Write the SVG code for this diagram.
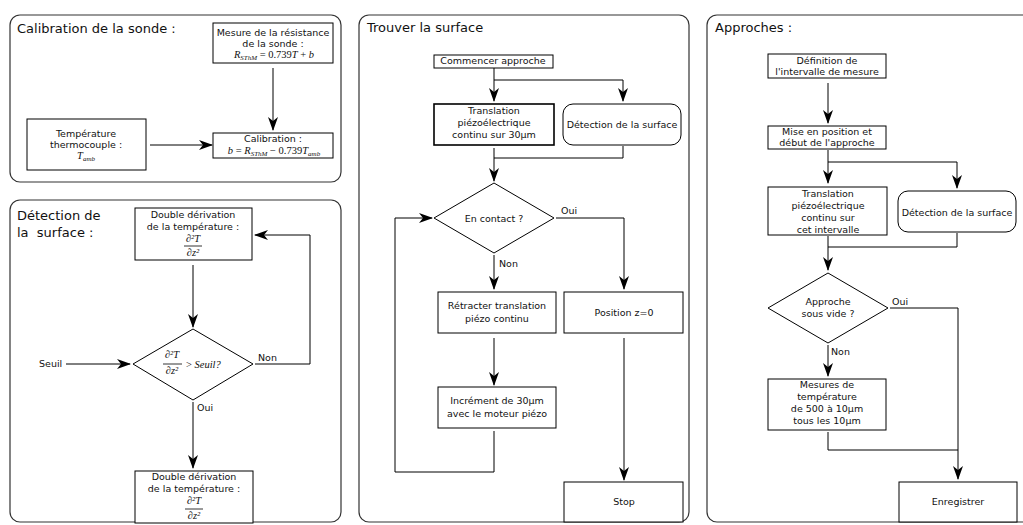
<svg xmlns="http://www.w3.org/2000/svg" width="1023" height="525" viewBox="0 0 1023 525">
<style>
.panel{fill:none;stroke:#333;stroke-width:1.2}
.box{fill:#fff;stroke:#000;stroke-width:1}
.thick{stroke-width:1.6}
.title{font-family:"DejaVu Sans",sans-serif;font-size:13px;fill:#111}
.t{font-family:"DejaVu Sans",sans-serif;font-size:9.5px;fill:#111;text-anchor:middle}
.lab{font-family:"DejaVu Sans",sans-serif;font-size:9.5px;fill:#111}
.m{font-family:"Liberation Serif","DejaVu Serif",serif;font-size:10.5px;fill:#111;text-anchor:middle}
.i{font-style:italic}
.c{fill:none;stroke:#000;stroke-width:1}
.a{marker-end:url(#arr)}
</style>
<defs>
<marker id="arr" viewBox="0 0 14 10" refX="13" refY="5" markerWidth="14" markerHeight="10" markerUnits="userSpaceOnUse" orient="auto">
<path d="M14,5 L0,0 L4,5 L0,10 Z" fill="#000"/>
</marker>
</defs>
<rect width="1023" height="525" fill="#fff"/>

<g id="panels">
<rect class="panel" x="10" y="15" width="331" height="167" rx="10"/>
<rect class="panel" x="10" y="200" width="331" height="322" rx="10"/>
<rect class="panel" x="359" y="15" width="330" height="507" rx="10"/>
<rect class="panel" x="707" y="15" width="330" height="507" rx="10"/>
<text class="title" x="17" y="33">Calibration de la sonde :</text>
<text class="title" x="17" y="220">Détection de</text>
<text class="title" x="17" y="237" style="white-space:pre">la  surface :</text>
<text class="title" x="367" y="32">Trouver la surface</text>
<text class="title" x="715" y="32">Approches :</text>
</g>

<g id="connectors">
<path class="c a" d="M273,68 V130"/>
<path class="c a" d="M150,145 H212"/>
<path class="c a" d="M193,265 V327"/>
<path class="c a" d="M66,364 H130"/>
<path class="c a" d="M255,364 H310 V235 H255"/>
<path class="c a" d="M193,402 V468"/>
<path class="c a" d="M494,68 V101"/>
<path class="c a" d="M494,80 H623 V101"/>
<path class="c a" d="M494,148 V181"/>
<path class="c" d="M623,146 V158 H494"/>
<path class="c a" d="M556,218 H624 V289"/>
<path class="c a" d="M494,255 V289"/>
<path class="c a" d="M494,338 V385"/>
<path class="c a" d="M494,431 V472 H395 V218 H432"/>
<path class="c a" d="M624,338 V480"/>
<path class="c a" d="M828,83 V123"/>
<path class="c a" d="M828,150 V183"/>
<path class="c a" d="M828,162 H957 V188"/>
<path class="c a" d="M828,236 V270"/>
<path class="c" d="M957,233 V247 H828"/>
<path class="c a" d="M890,308 H958 V479"/>
<path class="c a" d="M828,345 V376"/>
<path class="c" d="M828,432 V450 H958"/>
<text class="lab" x="258" y="361">Non</text>
<text class="lab" x="197" y="411">Oui</text>
<text class="lab" x="39" y="367">Seuil</text>
<text class="lab" x="561" y="214">Oui</text>
<text class="lab" x="499" y="267">Non</text>
<text class="lab" x="892" y="305">Oui</text>
<text class="lab" x="831" y="355">Non</text>
</g>

<g id="n-mesure">
<rect class="box" x="213" y="23" width="120" height="40"/>
<text class="t" x="273" y="36">Mesure de la résistance</text>
<text class="t" x="273" y="47">de la sonde :</text>
<text class="m" x="274" y="58"><tspan class="i">R</tspan><tspan class="i" font-size="7" dy="1.8">SThM</tspan><tspan dy="-1.8"> = 0.739</tspan><tspan class="i">T</tspan> + <tspan class="i">b</tspan></text>
</g>
<g id="n-calib">
<rect class="box" x="213" y="133" width="120" height="25"/>
<text class="t" x="273" y="142">Calibration :</text>
<text class="m" x="274" y="154"><tspan class="i">b</tspan> = <tspan class="i">R</tspan><tspan class="i" font-size="7" dy="1.8">SThM</tspan><tspan dy="-1.8"> − 0.739</tspan><tspan class="i">T</tspan><tspan class="i" font-size="7" dy="1.8">amb</tspan></text>
</g>
<g id="n-temp">
<rect class="box" x="27" y="119" width="119" height="51"/>
<text class="t" x="86" y="137">Température</text>
<text class="t" x="86" y="148">thermocouple :</text>
<text class="m" x="86" y="159"><tspan class="i">T</tspan><tspan class="i" font-size="7" dy="1.8">amb</tspan></text>
</g>

<g id="n-double1">
<rect class="box" x="135" y="208" width="117" height="52"/>
<text class="t" x="193" y="218">Double dérivation</text>
<text class="t" x="193" y="230">de la température :</text>
<text class="m i" x="193" y="242">∂²T</text>
<line x1="184" y1="246" x2="202" y2="246" stroke="#000" stroke-width="0.8"/>
<text class="m i" x="193" y="256">∂z²</text>
</g>
<g id="n-seuil">
<polygon class="box" points="193,329 253,364 193,400 133,364"/>
<text class="m i" x="172" y="358">∂²T</text>
<line x1="163" y1="364" x2="182" y2="364" stroke="#000" stroke-width="0.8"/>
<text class="m i" x="172" y="374">∂z²</text>
<text class="m" x="186" y="368" style="text-anchor:start">&gt; <tspan class="i">Seuil?</tspan></text>
</g>
<g id="n-double2">
<rect class="box" x="135" y="471" width="118" height="52"/>
<text class="t" x="194" y="480">Double dérivation</text>
<text class="t" x="194" y="492">de la température :</text>
<text class="m i" x="194" y="504">∂²T</text>
<line x1="185" y1="509" x2="203" y2="509" stroke="#000" stroke-width="0.8"/>
<text class="m i" x="194" y="519">∂z²</text>
</g>

<g id="n-commencer">
<rect class="box" x="434" y="55" width="119" height="13"/>
<text class="t" x="493" y="64">Commencer approche</text>
</g>
<g id="n-translation1">
<rect class="box thick" x="434" y="104" width="120" height="41"/>
<text class="t" x="494" y="114">Translation</text>
<text class="t" x="494" y="126">piézoélectrique</text>
<text class="t" x="494" y="138">continu sur 30µm</text>
</g>
<g id="n-detection1">
<rect class="box" x="563" y="104" width="118" height="41" rx="10"/>
<text class="t" x="622" y="128">Détection de la surface</text>
</g>
<g id="n-contact">
<polygon class="box" points="494,183 554,218 494,253 434,218"/>
<text class="t" x="494" y="222">En contact ?</text>
</g>
<g id="n-retracter">
<rect class="box" x="438" y="292" width="118" height="41"/>
<text class="t" x="497" y="309">Rétracter translation</text>
<text class="t" x="497" y="322">piézo continu</text>
</g>
<g id="n-position">
<rect class="box" x="564" y="292" width="119" height="41"/>
<text class="t" x="624" y="316">Position z=0</text>
</g>
<g id="n-increment">
<rect class="box" x="438" y="387" width="118" height="41"/>
<text class="t" x="497" y="404">Incrément de 30µm</text>
<text class="t" x="497" y="417">avec le moteur piézo</text>
</g>
<g id="n-stop">
<rect class="box" x="564" y="482" width="119" height="40"/>
<text class="t" x="624" y="505">Stop</text>
</g>

<g id="n-definition">
<rect class="box" x="768" y="54" width="118" height="24"/>
<text class="t" x="827" y="64">Définition de</text>
<text class="t" x="827" y="75">l'intervalle de mesure</text>
</g>
<g id="n-mise">
<rect class="box" x="768" y="126" width="118" height="23"/>
<text class="t" x="827" y="135">Mise en position et</text>
<text class="t" x="827" y="146">début de l'approche</text>
</g>
<g id="n-translation2">
<rect class="box" x="768" y="187" width="119" height="48"/>
<text class="t" x="828" y="197">Translation</text>
<text class="t" x="828" y="209">piézoélectrique</text>
<text class="t" x="828" y="221">continu sur</text>
<text class="t" x="828" y="233">cet intervalle</text>
</g>
<g id="n-detection2">
<rect class="box" x="898" y="191" width="118" height="41" rx="10"/>
<text class="t" x="957" y="216">Détection de la surface</text>
</g>
<g id="n-vide">
<polygon class="box" points="828,273 888,308 828,343 768,308"/>
<text class="t" x="828" y="305">Approche</text>
<text class="t" x="828" y="317">sous vide ?</text>
</g>
<g id="n-mesures">
<rect class="box" x="768" y="379" width="118" height="51"/>
<text class="t" x="827" y="388">Mesures de</text>
<text class="t" x="827" y="400">température</text>
<text class="t" x="827" y="412">de 500 à 10µm</text>
<text class="t" x="827" y="424">tous les 10µm</text>
</g>
<g id="n-enregistrer">
<rect class="box" x="899" y="482" width="118" height="40"/>
<text class="t" x="958" y="505">Enregistrer</text>
</g>
</svg>
